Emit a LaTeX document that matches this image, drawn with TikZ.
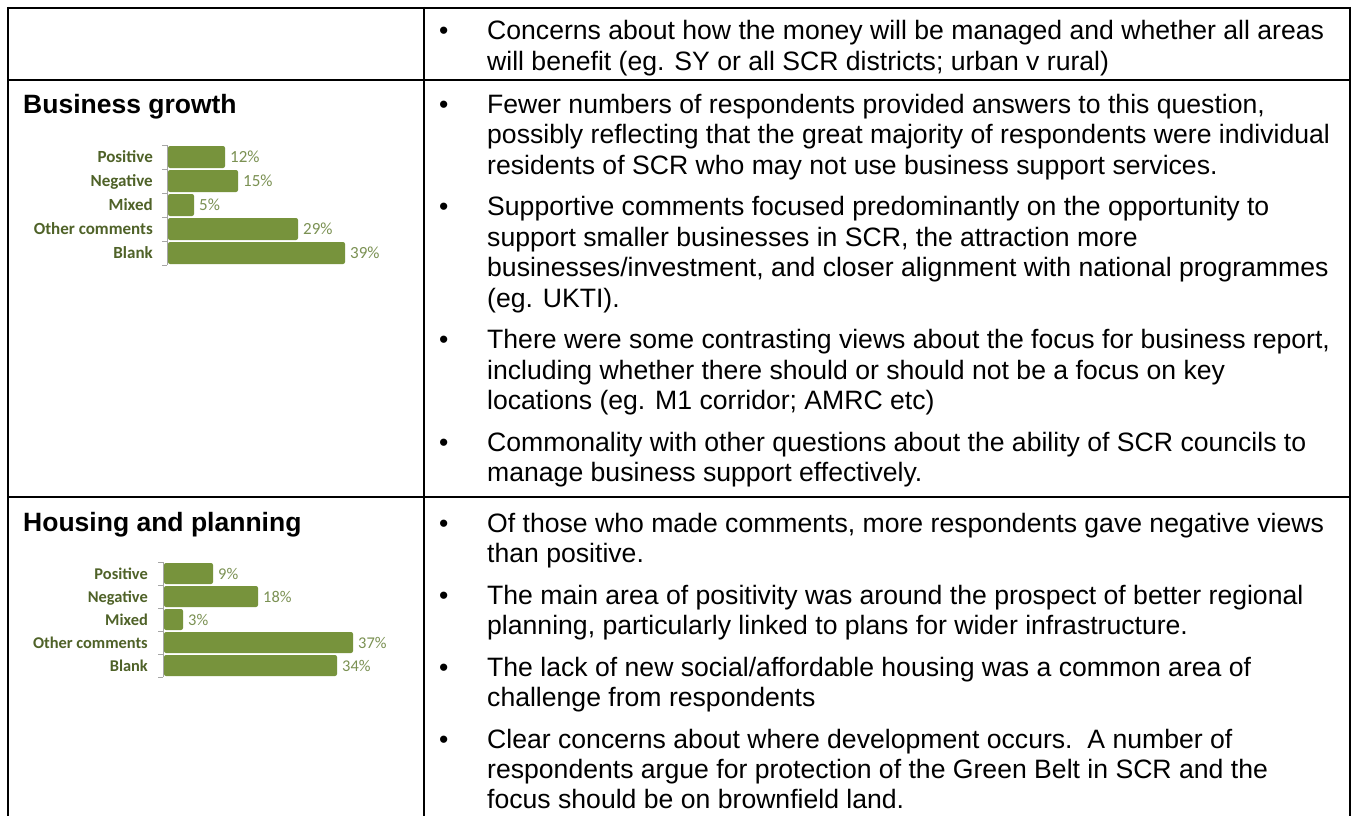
\documentclass[tikz,border=0pt]{standalone}
\usepackage{fontspec}
\setmainfont{Liberation Sans}
\newfontfamily\calibrifont{Carlito}
\definecolor{bargreen}{HTML}{77933C}
\definecolor{labgreen}{HTML}{4F6228}
\definecolor{valgreen}{HTML}{7B9153}
\definecolor{axisgray}{HTML}{A6A6A6}
\tikzset{
  tableline/.style={line width=2pt, black},
  body/.style={font=\fontsize{26.6}{30}\selectfont, anchor=base west, inner sep=0pt},
  bodytitle/.style={font=\fontsize{26.5}{30}\selectfont\bfseries, anchor=base west, inner sep=0pt},
  bulletmark/.style={font=\fontsize{26.5}{30}\selectfont, anchor=base west, inner sep=0pt},
  axisline/.style={axisgray, line width=1pt},
  labone/.style={font=\calibrifont\bfseries\fontsize{17}{20}\selectfont, text=labgreen, anchor=base east, inner sep=0pt},
  valone/.style={font=\calibrifont\fontsize{17}{20}\selectfont, text=valgreen, anchor=base west, inner sep=0pt},
  labtwo/.style={font=\calibrifont\bfseries\fontsize{16.4}{20}\selectfont, text=labgreen, anchor=base east, inner sep=0pt},
  valtwo/.style={font=\calibrifont\fontsize{16.4}{20}\selectfont, text=valgreen, anchor=base west, inner sep=0pt},
  barfill/.style={fill=bargreen, rounded corners=2pt}
}
\begin{document}
\begin{tikzpicture}[x=1pt,y=-1pt]
\useasboundingbox (0,0) rectangle (1352,816);
\fill[white] (0,0) rectangle (1352,816);
% table rules
\draw[tableline] (8,8) -- (1350,8);
\draw[tableline] (8,80) -- (1350,80);
\draw[tableline] (8,497) -- (1350,497);
\draw[tableline] (8,7) -- (8,816);
\draw[tableline] (424,7) -- (424,816);
\draw[tableline] (1350,7) -- (1350,816);
% row 1
\node[bulletmark] (b1) at (439,40) {•};
\node[body] (r1l1) at (487,40) {Concerns about how the money will be managed and whether all areas};
\node[body] (r1l2) at (487,70.5) {will benefit (eg. SY or all SCR districts; urban v rural)};
% row 2
\node[bodytitle] (t2) at (23,113) {Business growth};
\node[bulletmark] (b2a) at (439,113) {•};
\node[body] (r2a1) at (487,113) {Fewer numbers of respondents provided answers to this question,};
\node[body] (r2a2) at (487,143.5) {possibly reflecting that the great majority of respondents were individual};
\node[body] (r2a3) at (487,174) {residents of SCR who may not use business support services.};
\node[bulletmark] (b2b) at (439,215.5) {•};
\node[body] (r2b1) at (487,215.5) {Supportive comments focused predominantly on the opportunity to};
\node[body] (r2b2) at (487,246) {support smaller businesses in SCR, the attraction more};
\node[body] (r2b3) at (487,276.5) {businesses/investment, and closer alignment with national programmes};
\node[body] (r2b4) at (487,307) {(eg. UKTI).};
\node[bulletmark] (b2c) at (439,348.5) {•};
\node[body] (r2c1) at (487,348.5) {There were some contrasting views about the focus for business report,};
\node[body] (r2c2) at (487,379) {including whether there should or should not be a focus on key};
\node[body] (r2c3) at (487,409.5) {locations (eg. M1 corridor; AMRC etc)};
\node[bulletmark] (b2d) at (439,451) {•};
\node[body] (r2d1) at (487,451) {Commonality with other questions about the ability of SCR councils to};
\node[body] (r2d2) at (487,481.5) {manage business support effectively.};
% chart 1
\draw[axisline] (167,145) -- (167,265);
\foreach \k in {0,...,5} \draw[axisline] (162,{145+24*\k}) -- (167,{145+24*\k});
\foreach \lab/\v/\e [count=\i from 0] in {Positive/12\%/225, Negative/15\%/238, Mixed/5\%/194, Other comments/29\%/298, Blank/39\%/345}{
  \pgfmathsetmacro\t{146+24*\i}
  \fill[barfill] (168,\t) rectangle (\e,{\t+22});
  \node[labone] (cal\i) at (153,{\t+16.5}) {\lab};
  \node[valone] (cav\i) at ({\e+5},{\t+16.5}) {\v};
}
% row 3
\node[bodytitle] (t3) at (23,531) {Housing and planning};
\node[bulletmark] (b3a) at (439,532) {•};
\node[body] (r3a1) at (487,532) {Of those who made comments, more respondents gave negative views};
\node[body] (r3a2) at (487,562.5) {than positive.};
\node[bulletmark] (b3b) at (439,604) {•};
\node[body] (r3b1) at (487,604) {The main area of positivity was around the prospect of better regional};
\node[body] (r3b2) at (487,634.5) {planning, particularly linked to plans for wider infrastructure.};
\node[bulletmark] (b3c) at (439,676) {•};
\node[body] (r3c1) at (487,676) {The lack of new social/affordable housing was a common area of};
\node[body] (r3c2) at (487,706.5) {challenge from respondents};
\node[bulletmark] (b3d) at (439,748) {•};
\node[body] (r3d1) at (487,748) {Clear concerns about where development occurs.\ \ A number of};
\node[body] (r3d2) at (487,778.5) {respondents argue for protection of the Green Belt in SCR and the};
\node[body] (r3d3) at (487,808) {focus should be on brownfield land.};
% chart 2
\draw[axisline] (163,562) -- (163,677);
\foreach \k in {0,...,5} \draw[axisline] (158,{562+23*\k}) -- (163,{562+23*\k});
\foreach \lab/\v/\e [count=\i from 0] in {Positive/9\%/213, Negative/18\%/258, Mixed/3\%/183, Other comments/37\%/353, Blank/34\%/337}{
  \pgfmathsetmacro\t{563+23*\i}
  \fill[barfill] (164,\t) rectangle (\e,{\t+21});
  \node[labtwo] (cbl\i) at (148,{\t+16}) {\lab};
  \node[valtwo] (cbv\i) at ({\e+5},{\t+16}) {\v};
}
\end{tikzpicture}
\end{document}
